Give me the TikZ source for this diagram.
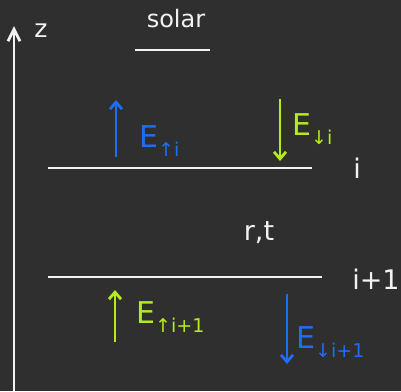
\documentclass[tikz,border=0pt]{standalone}
\usepackage{fontspec}
\setmainfont{DejaVu Sans}
\usetikzlibrary{arrows.meta}
\definecolor{board}{HTML}{2F2F2F}
\definecolor{chalkblue}{HTML}{1E6EF5}
\definecolor{chalkgreen}{HTML}{B4EB1E}
\definecolor{chalk}{HTML}{F2F2F2}
\newcommand{\subtxt}[1]{\raisebox{-0.3em}{\fontsize{19}{19}\selectfont #1}}
\begin{document}
\begin{tikzpicture}[x=1pt,y=-1pt,
  chalkline/.style={draw=chalk,line width=2.8pt},
  arr/.style={line width=2.8pt,-{Straight Barb[length=7pt,width=12pt]}},
  lbl/.style={inner sep=0pt,anchor=west,font=\fontsize{30}{32}\selectfont},
  wlbl/.style={inner sep=0pt,text=chalk,font=\fontsize{27}{29}\selectfont}]
\fill[board] (0,0) rectangle (401,391);
\useasboundingbox (0,0) rectangle (401,391);
% z axis
\coordinate (zb) at (14,391);
\coordinate (zt) at (14,26);
\draw[draw=chalk,line width=2.8pt,-{Straight Barb[length=12pt,width=12pt]}] (zb) -- (zt);
\node[wlbl,font=\fontsize{25}{27}\selectfont] (z) at (41,31) {z};
% title
\node[wlbl,font=\fontsize{24}{26}\selectfont] (solar) at (176,19) {solar};
\coordinate (ul) at (135,50);
\coordinate (ur) at (210,50);
\draw[chalkline] (ul) -- (ur);
% interface i
\coordinate (iL) at (48,168);
\coordinate (iR) at (312,168);
\draw[chalkline] (iL) -- (iR);
\node[wlbl] (li) at (357,168) {i};
% interface i+1
\coordinate (jL) at (48,277);
\coordinate (jR) at (322,277);
\draw[chalkline] (jL) -- (jR);
\node[wlbl] (lj) at (376,279) {i+1};
% r,t
\node[wlbl] (rt) at (259,233) {r,t};
% arrows layer i
\coordinate (a1b) at (116,157);
\coordinate (a1t) at (116,100);
\draw[arr,chalkblue] (a1b) -- (a1t);
\node[lbl,text=chalkblue] (E1) at (139,141) {E\subtxt{↑i}};
\coordinate (a2t) at (280,99);
\coordinate (a2b) at (280,161);
\draw[arr,chalkgreen] (a2t) -- (a2b);
\node[lbl,text=chalkgreen] (E2) at (292,129) {E\subtxt{↓i}};
% arrows layer i+1
\coordinate (a3b) at (115,342);
\coordinate (a3t) at (115,290);
\draw[arr,chalkgreen] (a3b) -- (a3t);
\node[lbl,text=chalkgreen] (E3) at (136,317) {E\subtxt{↑i+1}};
\coordinate (a4t) at (287,294);
\coordinate (a4b) at (287,364);
\draw[arr,chalkblue] (a4t) -- (a4b);
\node[lbl,text=chalkblue] (E4) at (296,342) {E\subtxt{↓i+1}};
\end{tikzpicture}
\end{document}
